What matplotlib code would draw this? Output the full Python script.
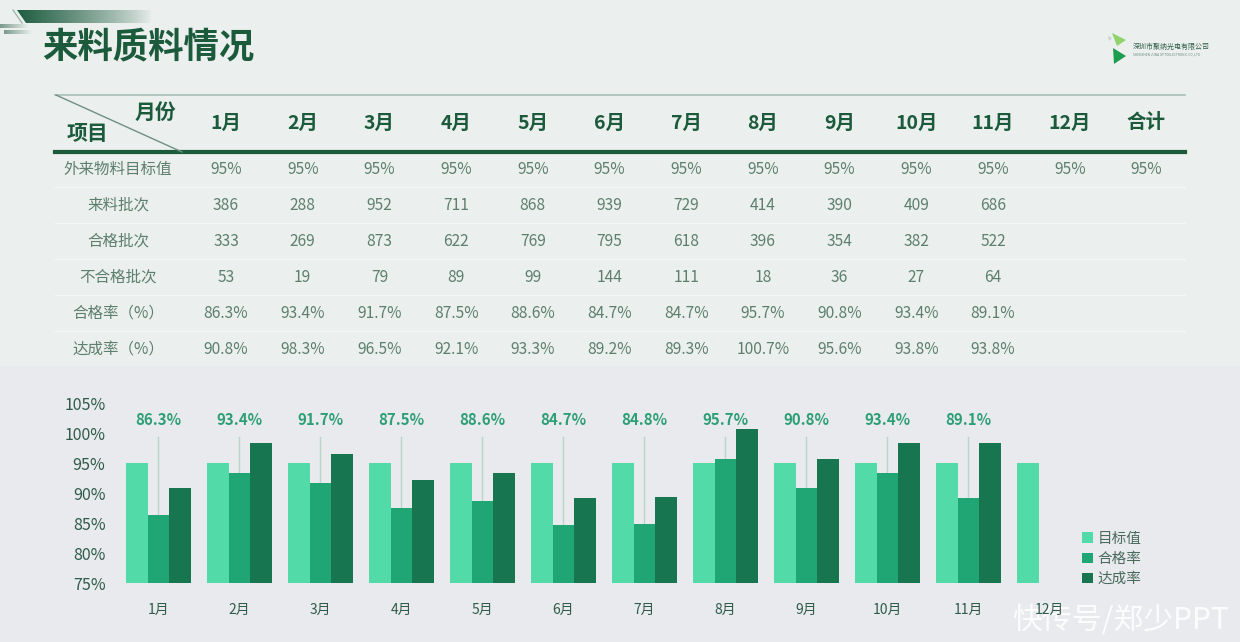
import matplotlib
matplotlib.use("Agg")
from matplotlib import pyplot as plt
from matplotlib.patches import Polygon, Rectangle
import numpy as np

plt.rcParams['font.family'] = ['Noto Sans CJK SC', 'DejaVu Sans']

# ---- data ----
months = ["1月", "2月", "3月", "4月", "5月", "6月", "7月", "8月", "9月", "10月", "11月", "12月"]
header_cols = months + ["合计"]
row_names = ["外来物料目标值", "来料批次", "合格批次", "不合格批次", "合格率（%）", "达成率（%）"]

target_tbl = [95] * 13
batches = [386, 288, 952, 711, 868, 939, 729, 414, 390, 409, 686]
pass_batches = [333, 269, 873, 622, 769, 795, 618, 396, 354, 382, 522]
fail_batches = [53, 19, 79, 89, 99, 144, 111, 18, 36, 27, 64]
pass_rate_tbl = [86.3, 93.4, 91.7, 87.5, 88.6, 84.7, 84.7, 95.7, 90.8, 93.4, 89.1]
achieve_tbl = [90.8, 98.3, 96.5, 92.1, 93.3, 89.2, 89.3, 100.7, 95.6, 93.8, 93.8]

# values drawn in the chart
target_chart = [95] * 12
pass_chart = [86.3, 93.4, 91.7, 87.5, 88.6, 84.7, 84.8, 95.7, 90.8, 93.4, 89.1]
achieve_chart = [90.8, 98.3, 96.5, 92.1, 93.3, 89.2, 89.3, 100.7, 95.6, 98.3, 98.3]
legend_names = ["目标值", "合格率", "达成率"]
yticks = [75, 80, 85, 90, 95, 100, 105]

# ---- colours ----
c_light = "#52dba8"
c_mid = "#20a574"
c_dark = "#177650"
c_title = "#1c5a3c"
c_body = "#5d7f6e"

W, H = 1240, 642
fig = plt.figure(figsize=(W / 100, H / 100), dpi=100)
fig.patch.set_facecolor("#e8eaed")

bg = fig.add_axes([0, 0, 1, 1])
bg.axis("off")
bg.add_patch(Rectangle((0, 0), W, 366, color="#ebefee", lw=0, zorder=0))

# decoration top-left: gradient bar
grad = np.zeros((1, 256, 4))
grad[..., :3] = matplotlib.colors.to_rgb("#1d5c40")
grad[..., 3] = np.linspace(1, 0, 256) ** 0.8
im = bg.imshow(grad, extent=(17, 152, 23, 10), aspect="auto", zorder=1)
clip = Polygon([(17, 10), (152, 10), (152, 23), (26, 23)], closed=True,
               transform=bg.transData, fc="none", ec="none")
bg.add_patch(clip)
im.set_clip_path(clip)
bg.plot([13, 22], [10, 23], color="#9fb8ad", lw=1, zorder=1)
for y0, x0, x1 in [(24, 0, 28), (30, 4, 32)]:
    g2 = np.zeros((1, 128, 4))
    g2[..., :3] = matplotlib.colors.to_rgb("#6f8f80")
    g2[..., 3] = np.linspace(0.9, 0, 128)
    bg.imshow(g2, extent=(x0, x1, y0 + 4, y0), aspect="auto", zorder=1)
bg.set_xlim(0, W)
bg.set_ylim(H, 0)

bg.text(42, 47, "来料质料情况", fontsize=25.5, fontweight="heavy", color=c_title,
        ha="left", va="center")

# logo
bg.add_patch(Polygon([(1112, 33), (1126, 40), (1117, 46)], closed=True, fc="#8fd36a", ec="none"))
bg.add_patch(Polygon([(1113, 48), (1126, 56), (1114, 64)], closed=True, fc="#1d9e4f", ec="none"))
bg.add_patch(Polygon([(1108, 36), (1112, 38), (1109, 41)], closed=True, fc="#c9d3ce", ec="none"))
bg.text(1133, 47, "深圳市聚纳光电有限公司", fontsize=5, color="#2d5d46", ha="left", va="center")
bg.text(1133, 54, "SHENZHEN JUNA OPTOELECTRONIC CO.,LTD", fontsize=2.3, color="#6a8a7a",
        ha="left", va="center")

# ---- table ----
col_x = [226 + 76.7 * i for i in range(13)]
label_x = 118
row_y = [169, 205, 241, 277, 313, 349]

bg.plot([55, 1185], [95, 95], color="#a9c0b5", lw=1.2)
bg.plot([55, 1185], [152, 152], color=c_title, lw=3)
bg.plot([56, 182], [95, 152], color="#6f8f80", lw=1)
for yy in [187, 223, 259, 295, 331]:
    bg.plot([55, 1185], [yy, yy], color="#f6f8f7", lw=1)

bg.text(155, 112, "月份", fontsize=15, fontweight="bold", color=c_title, ha="center", va="center")
bg.text(87, 134, "项目", fontsize=15, fontweight="bold", color=c_title, ha="center", va="center")
for xx, name in zip(col_x, header_cols):
    bg.text(xx, 123, name, fontsize=14, fontweight="bold", color=c_title, ha="center", va="center")

rows = [
    [f"{v}%" for v in target_tbl],
    [str(v) for v in batches],
    [str(v) for v in pass_batches],
    [str(v) for v in fail_batches],
    [f"{v}%" for v in pass_rate_tbl],
    [f"{v}%" for v in achieve_tbl],
]
for y, name, vals in zip(row_y, row_names, rows):
    bg.text(label_x, y, name, fontsize=11.2, color=c_body, ha="center", va="center")
    for xx, s in zip(col_x, vals):
        bg.text(xx, y, s, fontsize=11.2, color=c_body, ha="center", va="center")

# ---- chart ----
ax = fig.add_axes([118 / W, (H - 583) / H, 972 / W, 180 / H])
ax.set_facecolor("none")
x = np.arange(len(months))
bw = 0.265
n = len(pass_chart)
ax.bar(x - bw, [t - 75 for t in target_chart], bw, bottom=75, color=c_light, label=legend_names[0])
ax.bar(x[:n], [v - 75 for v in pass_chart], bw, bottom=75, color=c_mid, label=legend_names[1])
ax.bar(x[:n] + bw, [v - 75 for v in achieve_chart], bw, bottom=75, color=c_dark, label=legend_names[2])

for i, v in enumerate(pass_chart):
    ax.plot([i, i], [99.3, v], color="#b7d6c6", lw=1, zorder=0.5)
    ax.text(i, 102.2, f"{v}%", fontsize=10.8, fontweight="bold", color="#2e9e74",
            ha="center", va="center")

ax.set_xlim(-0.5, 11.5)
ax.set_ylim(75, 105)
ax.set_yticks(yticks)
ax.set_yticklabels([f"{t}%" for t in yticks])
ax.set_xticks(x)
ax.set_xticklabels(months)
for s in ax.spines.values():
    s.set_visible(False)
ax.tick_params(axis="y", length=0, pad=9, labelsize=11.5, labelcolor="#2f5b48")
ax.tick_params(axis="x", length=0, pad=14, labelsize=10, labelcolor="#2f5b48")

fig.legend(loc="lower left", bbox_to_anchor=(1079 / W, (H - 589) / H), frameon=False,
           fontsize=10.5, handlelength=0.75, handleheight=0.75, handletextpad=0.3,
           labelspacing=0.42, labelcolor="#4a6a5a", borderaxespad=0, borderpad=0.2)

# watermark
bg.text(1120, 620, "快传号/郑少PPT", fontsize=21.5, color="white", alpha=0.9,
        ha="center", va="center", zorder=10)

fig.savefig("out.png", dpi=100, facecolor=fig.get_facecolor())
